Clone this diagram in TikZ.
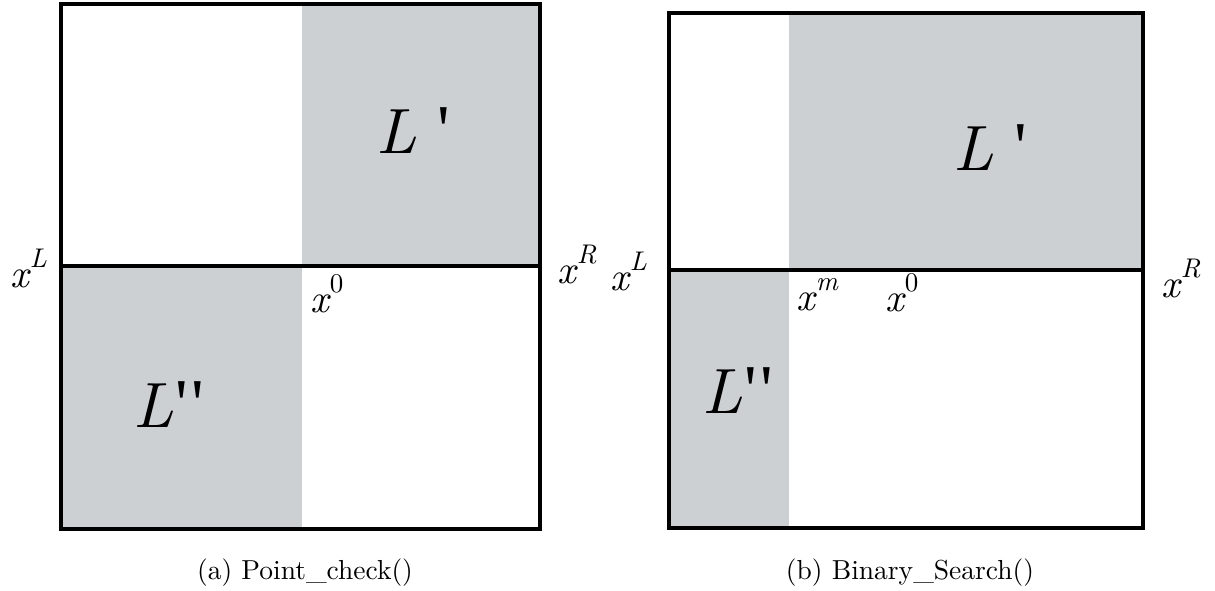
\documentclass[tikz,border=0pt]{standalone}
\usepackage{fontspec}
\newfontfamily\tms{Liberation Serif}
\newfontfamily\cmten{lmroman10-regular}[Extension=.otf]
\newfontfamily\lmit{lmroman10-italic}[Extension=.otf]
\definecolor{shade}{RGB}{205,208,211}
\tikzset{
  box/.style={line width=4.5pt, line join=miter},
  fillg/.style={fill=shade},
  lab/.style={anchor=base west, inner sep=0pt, font=\lmit\fontsize{40}{40}\selectfont},
  big/.style={anchor=base west, inner sep=0pt, font=\lmit\fontsize{64}{64}\selectfont},
  captext/.style={anchor=base, inner sep=0pt, font=\cmten\fontsize{27.5}{27.5}\selectfont}
}
\newcommand\supx[1]{x\kern1pt\raisebox{0.5em}{\fontsize{27}{27}\selectfont #1}}
\newcommand\tick{{\tms\upshape\fontsize{70}{70}\selectfont '}}
\begin{document}
\begin{tikzpicture}[x=1pt,y=-1pt]
\useasboundingbox (0,0) rectangle (1215,590);
% ---- left panel
\fill[fillg] (302,4) rectangle (540,266);
\fill[fillg] (61,266) rectangle (302,529);
\draw[box] (61,4) rectangle (540,529);
\draw[box] (61,266) -- (540,266);
\node[big] (lp1) at (376,153) {L\,\,\tick};
\node[big] (lpp1) at (133,427) {L\kern2pt\tick\kern4pt\tick};
\node[lab] (xl1) at (10,287) {\supx{L}};
\node[lab] (xr1) at (557,283) {\supx{R}};
\node[lab] (x01) at (310,312) {\supx{\cmten 0}};
\node[captext] (ca) at (305,579) {(a) Point\_check()};
% ---- right panel
\fill[fillg] (789,13) rectangle (1143,270);
\fill[fillg] (669,270) rectangle (789,528);
\draw[box] (669,13) rectangle (1143,528);
\draw[box] (669,270) -- (1143,270);
\node[big] (lp2) at (953,170) {L\,\,\tick};
\node[big] (lpp2) at (702,413) {L\kern2pt\tick\kern4pt\tick};
\node[lab] (xl2) at (610,290) {\supx{L}};
\node[lab] (xr2) at (1161,297) {\supx{R}};
\node[lab] (xm2) at (796,310) {\supx{m}};
\node[lab] (x02) at (885,311) {\supx{\cmten 0}};
\node[captext] (cb) at (910,579) {(b) Binary\_Search()};
\end{tikzpicture}
\end{document}
